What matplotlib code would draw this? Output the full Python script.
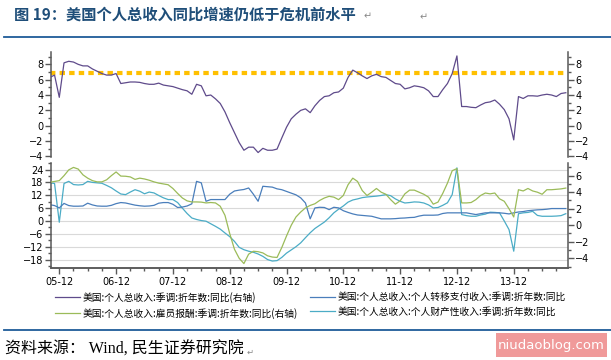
import numpy as np
import pandas as pd
import matplotlib.pyplot as plt
from matplotlib.lines import Line2D
from matplotlib.patches import Rectangle
from matplotlib.ticker import MultipleLocator, FixedLocator

plt.rcParams['font.family'] = ['DejaVu Sans', 'Noto Sans CJK SC']

# monthly, 2005-10 .. 2014-11
months = pd.period_range('2005-10', '2014-11', freq='M')

total = [6.3, 6.6, 3.7, 8.2, 8.4, 8.3, 8.0, 7.8, 7.8, 7.4, 7.1, 6.8, 6.6, 6.6,
         6.8, 5.5, 5.6, 5.7, 5.7, 5.65, 5.5, 5.4, 5.4, 5.55, 5.3, 5.2,
         5.1, 4.9, 4.7, 4.55, 4.1, 5.4, 5.2, 3.9, 4.0, 3.5, 2.9, 1.8,
         0.4, -0.9, -2.2, -3.2, -2.8, -2.8, -3.5, -2.95, -3.2, -3.2, -3.05, -1.6,
         -0.2, 0.9, 1.5, 2.0, 2.2, 1.7, 2.6, 3.3, 3.8, 3.9, 4.3, 4.4,
         4.9, 6.3, 7.25, 6.9, 6.5, 6.15, 6.5, 6.7, 6.4, 6.3, 5.9, 5.5,
         5.4, 4.8, 4.95, 5.2, 5.1, 4.95, 4.55, 3.8, 3.8, 4.7, 5.5, 6.8,
         9.1, 2.5, 2.5, 2.4, 2.35, 2.7, 3.0, 3.1, 3.35, 2.8, 2.1, 0.9,
         -1.85, 3.8, 3.55, 3.9, 3.9, 3.85, 4.0, 4.1, 4.0, 3.8, 4.2, 4.3]

comp = [5.2, 5.3, 5.4, 6.0, 6.7, 7.0, 6.8, 6.1, 5.7, 5.4, 5.25, 5.25, 5.5, 6.0,
        6.45, 5.95, 5.93, 5.85, 5.55, 5.7, 5.6, 5.45, 5.25, 5.1, 5.0, 4.9,
        4.45, 3.85, 3.3, 2.95, 2.82, 2.82, 2.8, 2.7, 2.75, 2.7, 2.3, 1.2,
        -1.0, -2.9, -4.0, -4.64, -3.5, -3.15, -3.2, -3.35, -3.7, -3.85, -3.9, -2.7,
        -1.3, 0.0, 1.0, 1.6, 2.1, 2.4, 2.6, 3.0, 3.3, 3.5, 3.4, 3.1,
        3.6, 4.9, 5.7, 5.3, 4.2, 3.6, 4.0, 4.45, 4.0, 3.75, 3.1, 2.55,
        2.95, 3.8, 4.25, 4.25, 4.0, 3.75, 3.4, 2.55, 2.8, 3.85, 5.1, 6.6,
        6.86, 2.7, 2.7, 2.75, 3.1, 3.6, 3.9, 3.8, 3.9, 3.2, 2.9, 2.0,
        1.0, 4.3, 4.15, 4.45, 4.15, 4.0, 3.75, 4.3, 4.3, 4.35, 4.4, 4.5]

transfer = [7.6, 7.2, 6.1, 8.2, 7.2, 6.9, 6.9, 7.0, 8.3, 7.5, 7.0, 6.9, 6.9, 7.3,
            8.1, 8.6, 8.4, 7.9, 7.4, 7.1, 6.9, 7.0, 7.3, 8.3, 8.6, 8.6,
            7.8, 6.3, 6.5, 7.0, 8.0, 18.5, 17.8, 9.2, 10.0, 10.0, 10.0, 10.0,
            12.5, 14.0, 14.4, 14.7, 15.4, 12.5, 9.2, 16.2, 16.0, 15.8, 15.0, 14.6,
            13.8, 13.0, 12.2, 10.8, 8.4, 1.0, 6.1, 6.4, 6.3, 5.3, 6.4, 6.1,
            4.8, 4.0, 3.3, 2.8, 2.6, 2.4, 2.2, 1.6, 1.0, 1.0, 1.0, 1.1,
            1.3, 1.4, 1.6, 1.7, 2.3, 2.7, 2.7, 2.7, 2.8, 3.5, 3.8, 3.8,
            3.8, 3.8, 3.8, 3.4, 3.0, 3.4, 3.8, 3.8, 3.8, 3.8, 3.6, 3.3,
            3.8, 4.2, 4.4, 4.8, 5.0, 5.2, 5.3, 5.5, 5.8, 5.8, 5.8, 5.8]

prop = [17.8, 17.5, -0.6, 17.5, 18.5, 17.0, 16.8, 17.0, 18.5, 18.0, 17.8, 17.6, 16.6, 15.5,
        14.0, 12.6, 12.3, 13.5, 14.6, 13.9, 12.7, 13.5, 13.1, 11.9, 10.8, 10.0,
        10.0, 8.6, 6.0, 3.5, 1.4, 0.7, 0.2, -0.1, -1.3, -2.5, -3.8, -5.6,
        -7.3, -9.5, -12.3, -13.4, -14.1, -14.6, -15.4, -16.5, -18.0, -18.7, -18.5, -17.0,
        -15.0, -13.5, -12.0, -10.2, -7.8, -5.5, -3.5, -2.0, -0.5, 1.5, 3.8, 5.5,
        7.0, 8.8, 9.8, 10.3, 10.9, 11.2, 11.4, 11.6, 11.9, 12.3, 11.8, 10.3,
        9.2, 8.4, 8.6, 8.9, 8.8, 8.4, 7.5, 6.1, 6.3, 7.3, 8.5, 12.3,
        24.8, 3.0, 2.5, 2.2, 2.2, 2.8, 3.2, 4.1, 4.0, 3.8, 0.0, -4.0,
        -14.1, 3.4, 3.8, 4.0, 4.5, 2.6, 2.2, 2.2, 2.2, 2.3, 2.5, 3.4]

pre_crisis = 6.85

labels = ['美国:个人总收入:季调:折年数:同比(右轴)',
          '美国:个人总收入:雇员报酬:季调:折年数:同比(右轴)',
          '美国:个人总收入:个人转移支付收入:季调:折年数:同比',
          '美国:个人总收入:个人财产性收入:季调:折年数:同比']

x = np.arange(len(months))
major = x[months.month == 12]
minor = x[months.month % 3 == 0]
xlabels = [p.strftime('%y-%m') for p in months[months.month == 12]]

W, H = 611, 360
fig = plt.figure(figsize=(W / 100, H / 100), dpi=100)


def box(l, t, r, b):
    return [l / W, 1 - b / H, (r - l) / W, (b - t) / H]


spine_c = '#595959'


def style(ax, sides):
    for s in ['top', 'bottom', 'left', 'right']:
        ax.spines[s].set_visible(s in sides)
        ax.spines[s].set_color(spine_c)
        ax.spines[s].set_linewidth(1.1)
    ax.tick_params(which='both', colors=spine_c, labelcolor='black', labelsize=7, pad=1.5)
    ax.tick_params(which='major', length=4, width=1)
    ax.tick_params(which='minor', length=2, width=1)


x0, x1 = 0.25, len(x) - 0.6

# top panel
ax1 = fig.add_axes(box(51, 51.7, 567.7, 157.3))
ax1r = ax1.twinx()
for a in (ax1, ax1r):
    a.set_ylim(-4.12, 9.65)
    a.yaxis.set_major_locator(MultipleLocator(2))
    a.yaxis.set_minor_locator(MultipleLocator(1))
ax1.set_xlim(x0, x1)
ax1.set_xticks([])
style(ax1, ['left'])
style(ax1r, ['right'])
ax1.plot(x, [pre_crisis] * len(x), color='#FFC000', lw=3, ls=(0, (1.3, 1.0)),
         dash_capstyle='butt')
ax1r.plot(x, total, color='#5F4B8B', lw=0.9)

# bottom panel
ax2 = fig.add_axes(box(51, 162.7, 567.7, 267.7))
ax2r = ax2.twinx()
ax2.set_ylim(-21.8, 27.2)
ax2.yaxis.set_major_locator(MultipleLocator(6))
ax2.yaxis.set_minor_locator(MultipleLocator(3))
ax2.grid(axis='y', color='#D9D9D9', lw=0.8)
ax2r.set_ylim(-5.14, 7.57)
ax2r.yaxis.set_major_locator(MultipleLocator(2))
ax2r.yaxis.set_minor_locator(MultipleLocator(1))
ax2.set_xlim(x0, x1)
style(ax2, ['left', 'bottom'])
style(ax2r, ['right', 'bottom'])
ax2.xaxis.set_major_locator(FixedLocator(major))
ax2.xaxis.set_minor_locator(FixedLocator(minor))
ax2.set_xticklabels(xlabels)
ax2.tick_params(axis='x', pad=3)

l_prop, = ax2.plot(x, prop, color='#4BACC6', lw=0.9)
l_tr, = ax2.plot(x, transfer, color='#4A7EBB', lw=0.9)
l_comp, = ax2r.plot(x, comp, color='#9BBB59', lw=0.9)
l_tot = Line2D([], [], color='#5F4B8B', lw=0.9)

leg_kw = dict(frameon=False, handlelength=2.6, handletextpad=0.2,
              labelspacing=0.5, borderaxespad=0, borderpad=0,
              prop={'family': ['Noto Sans CJK SC'], 'size': 7})
fig.legend([l_tot, l_comp], labels[:2], loc='upper left',
           bbox_to_anchor=(55 / W, 1 - 292 / H), **leg_kw)
fig.legend([l_tr, l_prop], labels[2:], loc='upper left',
           bbox_to_anchor=(310 / W, 1 - 292 / H), **leg_kw)

# title, rules, source
fig.text(14 / W, 1 - 15 / H, '图 19：美国个人总收入同比增速仍低于危机前水平',
         fontsize=11, fontweight='bold', color='#1F4E79', va='center',
         family=['Noto Sans CJK SC'])
fig.text(364 / W, 1 - 16 / H, '↵', fontsize=7, color='#888888', va='center')
fig.text(420 / W, 1 - 17 / H, '↵', fontsize=7, color='#888888', va='center')
fig.add_artist(Line2D([4 / W, 1], [1 - 37 / H] * 2, color='#1F5C99', lw=1.3))
fig.add_artist(Line2D([4 / W, 1], [1 - 330 / H] * 2, color='#1F5C99', lw=1.3))
fig.text(5 / W, 1 - 350 / H, '资料来源： Wind, 民生证券研究院', fontsize=11.5,
         va='center', family=['Liberation Serif', 'Noto Sans CJK SC'])
fig.text(247 / W, 1 - 352 / H, '↵', fontsize=6, color='#888888', va='center')
fig.add_artist(Rectangle((496 / W, 1 - 357 / H), 111 / W, 24 / H,
                         transform=fig.transFigure, color='#F09A9A', lw=0))
fig.text(551 / W, 1 - 345 / H, 'niudaoblog.com', fontsize=9.5, color='white',
         ha='center', va='center')

fig.savefig('out.png', dpi=100)
